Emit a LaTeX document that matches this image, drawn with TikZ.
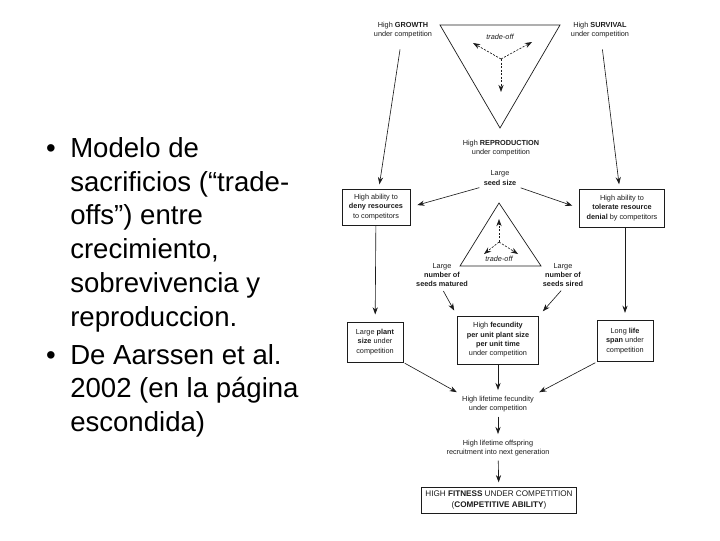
\documentclass[tikz,border=0pt]{standalone}
\usepackage{fontspec}
\setmainfont{Liberation Sans}
\usetikzlibrary{arrows.meta,positioning}
\definecolor{Ink}{HTML}{1C1C1C}
\tikzset{
 lbl/.style={font=\fontsize{5.2}{6.6}\selectfont,align=center,text=Ink,inner sep=1pt},
 itlbl/.style={lbl,font=\fontsize{5.2}{6.6}\selectfont\itshape},
 box/.style={lbl,draw=Ink,line width=0.7pt,inner sep=2pt},
 tri/.style={draw=Ink,line width=0.5pt},
 arr/.style={-{Stealth[length=1.8mm,width=1.3mm]},draw=Ink,line width=0.45pt},
 dsh/.style={arr,dash pattern=on 1.5pt off 1pt},
 bul/.style={font=\fontsize{19.6}{24}\selectfont,align=left,inner sep=0pt}
}
\begin{document}
\begin{tikzpicture}[x=0.025cm,y=-0.025cm]
\useasboundingbox (0,0) rectangle (720,540);
% slide text (base = last line)
\node[bul,anchor=base] (dot1) at (51,157.3) {\textbullet};
\node[bul,anchor=base west] (txt1) at (70,326) {Modelo de\\sacrificios (“trade-\\offs”) entre\\crecimiento,\\sobrevivencia y\\reproduccion.};
\node[bul,anchor=base] (dot2) at (51,364) {\textbullet};
\node[bul,anchor=base west] (txt2) at (70,431.5) {De Aarssen et al.\\2002 (en la página\\escondida)};
% upper trade-off triangle
\node[lbl] (growth) at (403,30) {High \textbf{GROWTH}\\under competition};
\node[lbl] (survival) at (600,30) {High \textbf{SURVIVAL}\\under competition};
\node[lbl] (repro) at (501,148) {High \textbf{REPRODUCTION}\\under competition};
\coordinate (ta) at (440,25);
\coordinate (tb) at (560,25);
\coordinate (tc) at (500,128);
\draw[tri] (ta) -- (tb) -- (tc) -- cycle;
\node[itlbl] (off1) at (500,37) {trade-off};
\coordinate (c1) at (501,59);
\coordinate (g1) at (473,43);
\coordinate (g2) at (532,42);
\coordinate (g3) at (501,92);
\draw[dsh] (c1) -- (g1);\draw[dsh] (c1) -- (g2);\draw[dsh] (c1) -- (g3);
% middle row
\node[box,minimum width=1.7cm,minimum height=0.9cm] (deny) at (376,207) {High ability to\\\textbf{deny resources}\\to competitors};
\node[box,minimum width=2.125cm,minimum height=0.95cm] (tolerate) at (622,208) {High ability to\\\textbf{tolerate resource}\\\textbf{denial} by competitors};
\node[lbl] (seedsize) at (500,178) {Large\\\textbf{seed size}};
\node[lbl] (matured) at (442,275) {Large\\\textbf{number of}\\\textbf{seeds matured}};
\node[lbl] (sired) at (563,275) {Large\\\textbf{number of}\\\textbf{seeds sired}};
% lower trade-off triangle
\coordinate (ma) at (499,203);
\coordinate (mb) at (460,266);
\coordinate (mc) at (541,266);
\draw[tri] (ma) -- (mb) -- (mc) -- cycle;
\node[itlbl] (off2) at (499,259) {trade-off};
\coordinate (c2) at (499,242);
\coordinate (h1) at (499,219);
\coordinate (h2) at (484,254);
\coordinate (h3) at (518,254);
\draw[dsh] (c2) -- (h1);\draw[dsh] (c2) -- (h2);\draw[dsh] (c2) -- (h3);
% bottom boxes
\node[box,minimum width=1.4cm,minimum height=1.0cm] (plantsize) at (375,342) {Large \textbf{plant}\\\textbf{size} under\\competition};
\node[box,minimum width=2.03cm,minimum height=1.2cm] (fecund) at (498,340) {High \textbf{fecundity}\\\textbf{per unit plant size}\\\textbf{per unit time}\\under competition};
\node[box,minimum width=1.4cm,minimum height=1.03cm] (lifespan) at (625,341) {Long \textbf{life}\\\textbf{span} under\\competition};
\node[lbl] (lifefec) at (498,404) {High lifetime fecundity\\under competition};
\node[lbl] (recruit) at (498,448) {High lifetime offspring\\recruitment into next generation};
\node[box,font=\fontsize{5.8}{7.2}\selectfont,minimum width=3.88cm,minimum height=0.65cm] (fitness) at (499,500) {HIGH \textbf{FITNESS} UNDER COMPETITION\\(\textbf{COMPETITIVE ABILITY})};
% connectors
\draw[arr,shorten <=7pt,shorten >=3pt] (growth) -- (deny);
\draw[arr,shorten <=7pt,shorten >=3pt] (survival) -- (tolerate);
\draw[arr,shorten <=2pt,shorten >=5pt] (seedsize.south west) -- (deny.east);
\draw[arr,shorten <=2pt,shorten >=5pt] (seedsize.south east) -- (tolerate.west);
\draw[arr,shorten >=5pt] (deny) -- (plantsize);
\draw[arr,shorten >=5pt] (tolerate.south -| lifespan) -- (lifespan);
\draw[arr,shorten <=2pt,shorten >=4pt] (matured.south) -- (fecund.north west);
\draw[arr,shorten <=2pt,shorten >=4pt] (sired.south) -- (fecund.north east);
\draw[arr,shorten <=1pt,shorten >=3pt] (plantsize.south east) -- (lifefec.north west);
\draw[arr,shorten >=3pt] (fecund) -- (lifefec);
\draw[arr,shorten <=1pt,shorten >=3pt] (lifespan.south west) -- (lifefec.north east);
\draw[arr,shorten <=2pt,shorten >=3pt] (lifefec) -- (recruit);
\draw[arr,shorten <=2pt,shorten >=3pt] (recruit) -- (fitness);
\end{tikzpicture}
\end{document}
